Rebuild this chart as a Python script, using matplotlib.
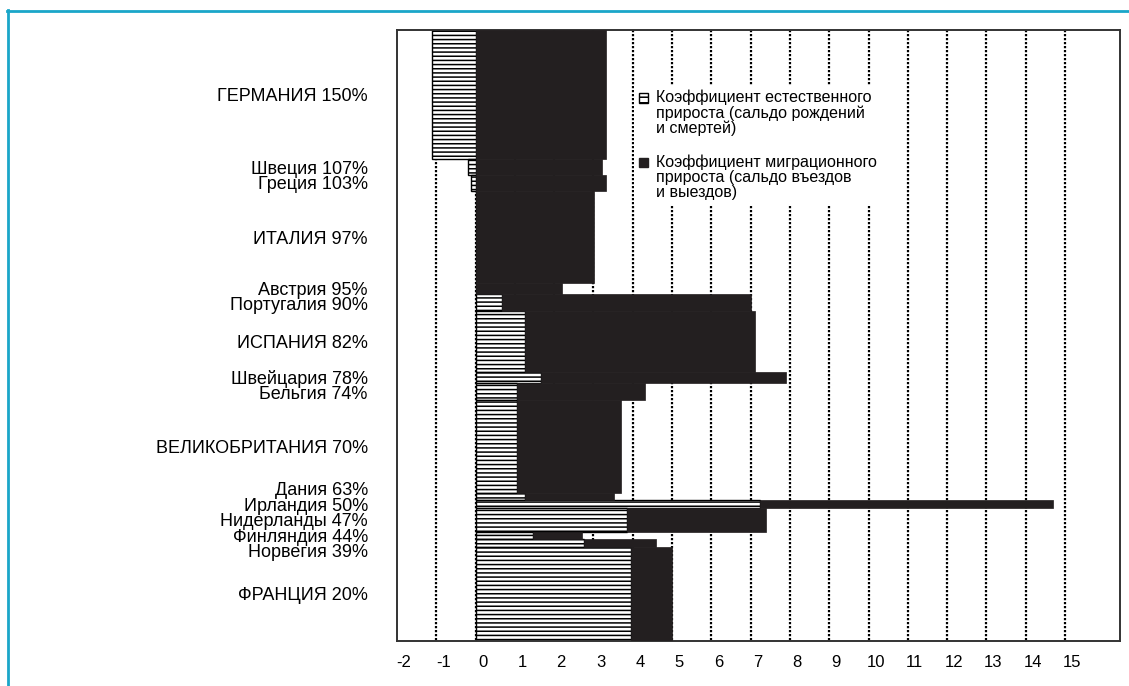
import matplotlib
matplotlib.use("Agg")
import matplotlib.pyplot as plt
import matplotlib.transforms as mtransforms
from matplotlib.legend_handler import HandlerPatch
from matplotlib.lines import Line2D
from matplotlib.patches import Patch, Rectangle
import numpy as np

plt.rcParams["font.family"] = ["Liberation Sans", "DejaVu Sans"]
plt.rcParams["hatch.linewidth"] = 1.1

countries = [
    "ГЕРМАНИЯ 150%", "Швеция 107%", "Греция 103%", "ИТАЛИЯ 97%",
    "Австрия 95%", "Португалия 90%", "ИСПАНИЯ 82%", "Швейцария 78%",
    "Бельгия 74%", "ВЕЛИКОБРИТАНИЯ 70%", "Дания 63%", "Ирландия 50%",
    "Нидерланды 47%", "Финляндия 44%", "Норвегия 39%", "ФРАНЦИЯ 20%",
]
# bar thickness ~ population, mln
population = np.array([82.1, 9.9, 10.2, 58.6, 7.0, 10.8, 38.5, 7.3,
                       10.2, 59.2, 4.5, 5.4, 15.0, 4.5, 4.9, 59.8])
# natural increase coefficient
natural = np.array([-1.10, -0.20, -0.11, 0.0, 0.0, 0.67, 1.26, 1.67,
                    1.05, 1.05, 1.26, 7.25, 3.86, 1.47, 2.75, 3.96])
# migration increase coefficient
migration = np.array([3.31, 3.21, 3.31, 3.01, 2.21, 6.35, 5.84, 6.24,
                      3.27, 2.65, 2.25, 7.45, 3.54, 1.25, 1.85, 1.05])
x_ticks = np.arange(-2, 16)
grid_x = np.arange(-1, 16)

legend_labels = [
    "Коэффициент естественного\nприроста (сальдо рождений\nи смертей)",
    "Коэффициент миграционного\nприроста (сальдо въездов\nи выездов)",
]

BLACK = "#231f20"
W, H = 1129, 686
fig = plt.figure(figsize=(W / 100, H / 100), dpi=100)
ax = fig.add_axes([397 / W, 1 - 641 / H, (1120 - 397) / W, 611 / H])

tops = np.concatenate([[0], np.cumsum(population)[:-1]])
total = population.sum()

ax.vlines(grid_x, 0, total, colors="black", linewidth=1.6,
          linestyles=(0, (1, 0.8)), zorder=1)

ax.barh(tops, natural, height=population, left=0, align="edge",
        color="white", edgecolor="black", hatch="----", linewidth=1.0,
        zorder=2)
ax.barh(tops, migration, height=population, left=np.maximum(natural, 0),
        align="edge", color=BLACK, edgecolor=BLACK, linewidth=0.5, zorder=3)

# label positions: bar centres, spread apart where they would overlap
centres = tops + population / 2
gap = 15.5 / (611 / total)
clusters = [[i] for i in range(len(centres))]
changed = True
while changed:
    changed = False
    starts = [centres[c].mean() - gap * (len(c) - 1) / 2 for c in clusters]
    for k in range(len(clusters) - 1):
        end_k = starts[k] + gap * (len(clusters[k]) - 1)
        if starts[k + 1] - end_k < gap:
            clusters[k] = clusters[k] + clusters[k + 1]
            del clusters[k + 1]
            changed = True
            break
label_y = np.zeros(len(centres))
for c in clusters:
    start = centres[c].mean() - gap * (len(c) - 1) / 2
    for j, i in enumerate(c):
        label_y[i] = start + gap * j

ax.set_yticks(label_y)
ax.set_yticklabels(countries, fontsize=13)
ax.set_ylim(total, 0)
ax.set_xlim(-2, 16.4)
ax.set_xticks(x_ticks)
ax.set_xticklabels([str(v) for v in x_ticks], fontsize=12)
ax.tick_params(axis="y", length=0, pad=21)
ax.tick_params(axis="x", length=0, pad=10)
offset = mtransforms.ScaledTranslation(7 / 100, 0, fig.dpi_scale_trans)
for lab in ax.get_xticklabels():
    lab.set_transform(lab.get_transform() + offset)

for s in ax.spines.values():
    s.set_linewidth(1.4)
    s.set_color("#333333")


def first_line_patch(legend, orig_handle, xdescent, ydescent, width, height,
                     fontsize):
    # put the key next to the first line of a three-line label
    return Rectangle((-xdescent, -ydescent + 0.95 * fontsize), width, height)


handles = [
    Patch(facecolor="white", edgecolor="black", hatch="---", linewidth=1.0),
    Patch(facecolor=BLACK, edgecolor=BLACK),
]
leg = ax.legend(handles, legend_labels, loc="upper left",
                bbox_to_anchor=((634 - 397) / 723, (641 - 85) / 611),
                fontsize=11.5, frameon=True, facecolor="white",
                edgecolor="none", framealpha=1, fancybox=False,
                handlelength=0.55, handleheight=0.55, handletextpad=0.55,
                labelspacing=1.15, borderpad=0.3, borderaxespad=0,
                handler_map={Patch: HandlerPatch(patch_func=first_line_patch)})
for t in leg.get_texts():
    t.set_linespacing(1.0)
leg.set_zorder(4)

teal = "#1aa6c9"
fig.add_artist(Line2D([7 / W, 1], [1 - 10.5 / H] * 2, color=teal,
                      linewidth=2.0, transform=fig.transFigure))
fig.add_artist(Line2D([8 / W] * 2, [0, 1 - 9.5 / H], color=teal,
                      linewidth=2.0, transform=fig.transFigure))

fig.savefig("out.png", dpi=100)
